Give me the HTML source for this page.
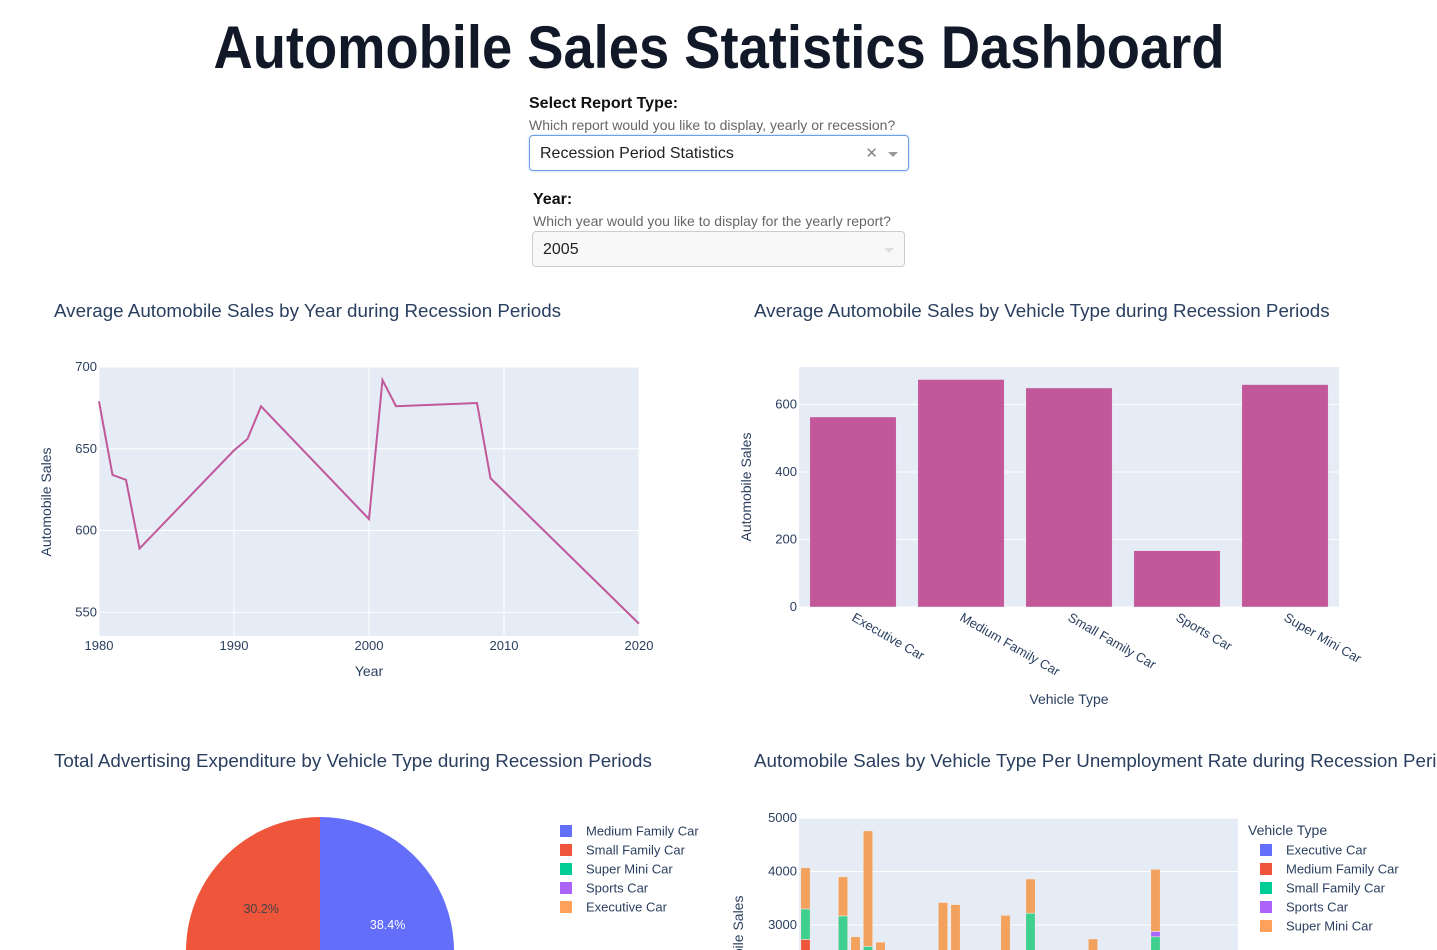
<!DOCTYPE html>
<html><head><meta charset="utf-8"><style>
html,body{margin:0;width:1437px;height:950px;overflow:hidden;background:#fff;font-family:"Liberation Sans",sans-serif;position:relative}
.lbl{position:absolute;font-weight:bold;font-size:16px;color:#111}
.hint{position:absolute;font-size:14px;color:#666}
.dd{position:absolute;box-sizing:border-box;border-radius:4px;font-size:16px;color:#222;padding-left:10px;line-height:36px}
svg{position:absolute;left:0;top:0;overflow:hidden}
</style></head><body>
<svg id="chart" width="1437" height="950">
<text x="719" y="68" text-anchor="middle" font-size="60" font-weight="bold" fill="#111827" textLength="1011" lengthAdjust="spacingAndGlyphs">Automobile Sales Statistics Dashboard</text>
</svg>
<div class="lbl" style="left:529px;top:95px">Select Report Type:</div>
<div class="hint" style="left:529px;top:117px">Which report would you like to display, yearly or recession?</div>
<div class="dd" style="left:529px;top:135px;width:380px;height:36px;border:1px solid #6b9fe6;box-shadow:0 0 2px #aac6f0">Recession Period Statistics<span style="position:absolute;right:30px;color:#888;font-size:15px">✕</span><span style="position:absolute;right:10px;top:16px;width:0;height:0;border-left:5px solid transparent;border-right:5px solid transparent;border-top:5px solid #999"></span></div>
<div class="lbl" style="left:533px;top:191px">Year:</div>
<div class="hint" style="left:533px;top:213px">Which year would you like to display for the yearly report?</div>
<div class="dd" style="left:532px;top:231px;width:373px;height:36px;border:1px solid #ccc;background:#f8f8f8">2005<span style="position:absolute;right:10px;top:16px;width:0;height:0;border-left:5px solid transparent;border-right:5px solid transparent;border-top:5px solid #ddd"></span></div>
<script>
const lineYears=[1980,1981,1982,1983,1990,1991,1992,2000,2001,2002,2008,2009,2020];
const lineSales=[679,634,631,589,649,656,676,607,692,676,678,632,543];
const yTicksLine=[550,600,650,700];
const xTicksLine=[1980,1990,2000,2010,2020];
const barTypes=["Executive Car","Medium Family Car","Small Family Car","Sports Car","Super Mini Car"];
const barSales=[563,674,649,167,659];
const yTicksBar=[0,200,400,600];
const pieLabels=["Medium Family Car","Small Family Car","Super Mini Car","Sports Car","Executive Car"];
const pieValues=[38.4,30.2,20.0,1.5,9.9];
const pieColors=["#636efa","#ef553b","#00cc96","#ab63fa","#ffa15a"];
const stackRates=[0,3,4,5,6,11,12,16,18,23,28];
const stackMedium=[2730,0,0,0,0,0,0,0,0,0,0];
const stackSmall=[570,3170,0,2600,0,0,0,0,3220,0,2780];
const stackSports=[0,0,0,0,0,0,0,0,0,0,100];
const stackSuperMini=[770,730,2780,2160,2680,3420,3380,3180,640,2740,1160];
const stackTicks=[3000,4000,5000];
const legendTypes=["Executive Car","Medium Family Car","Small Family Car","Sports Car","Super Mini Car"];
const legendColors=["#636efa","#ef553b","#00cc96","#ab63fa","#ffa15a"];

const svg=document.getElementById('chart');
const NS="http://www.w3.org/2000/svg";
function mk(tag,attrs,parent){const e=document.createElementNS(NS,tag);for(const k in attrs)e.setAttribute(k,attrs[k]);(parent||svg).appendChild(e);return e;}
function txt(x,y,s,attrs){const t=mk('text',Object.assign({x:x,y:y,'font-size':13,fill:'#2a3f5f','font-family':'Liberation Sans, sans-serif'},attrs||{}));t.textContent=s;return t;}
const col="#c2579a";

let t;
t=txt(54,317,"Average Automobile Sales by Year during Recession Periods",{'font-size':18.8});


t=txt(754,317,"Average Automobile Sales by Vehicle Type during Recession Periods",{'font-size':18.8});


t=txt(54,767,"Total Advertising Expenditure by Vehicle Type during Recession Periods",{'font-size':18.8});


t=txt(754,767,"Automobile Sales by Vehicle Type Per Unemployment Rate during Recession Periods",{'font-size':18.8});



// LINE CHART
const L={x0:99,x1:639,y0:636,y1:367};
const lx=v=>L.x0+(v-1980)/40*(L.x1-L.x0);
const ly=v=>L.y0-(v-535.5)/(700-535.5)*(L.y0-L.y1);
let bg=mk('rect',{x:L.x0,y:L.y1,width:L.x1-L.x0,height:L.y0-L.y1,fill:'#e5ecf6'});


yTicksLine.forEach(v=>{mk('line',{x1:L.x0,x2:L.x1,y1:ly(v),y2:ly(v),stroke:'#fff'});
 const g=txt(L.x0-2,ly(v)+4,String(v),{'text-anchor':'end'});
 
 });
xTicksLine.forEach(v=>{mk('line',{x1:lx(v),x2:lx(v),y1:L.y1,y2:L.y0,stroke:'#fff'});
 const g=txt(lx(v),650,String(v),{'text-anchor':'middle'});
 
 });
let pl=mk('polyline',{points:lineYears.map((y,i)=>lx(y)+','+ly(lineSales[i])).join(' '),fill:'none',stroke:col,'stroke-width':2});


t=txt(369,676,"Year",{'font-size':14,'text-anchor':'middle'});


t=txt(51,502,"Automobile Sales",{'font-size':14,'text-anchor':'middle',transform:'rotate(-90 51 502)'});



// BAR CHART
const B={x0:799,x1:1339,y0:607,y1:367};
const by=v=>B.y0-v/711*(B.y0-B.y1);
const bw=(B.x1-B.x0)/barTypes.length;
bg=mk('rect',{x:B.x0,y:B.y1,width:B.x1-B.x0,height:B.y0-B.y1,fill:'#e5ecf6'});


yTicksBar.forEach(v=>{mk('line',{x1:B.x0,x2:B.x1,y1:by(v),y2:by(v),stroke:'#fff'});
 const g=txt(B.x0-2,by(v)+4,String(v),{'text-anchor':'end'});
 
 });
barTypes.forEach((c,i)=>{const x=B.x0+i*bw+bw*0.1;
 const r=mk('rect',{x:x,y:by(barSales[i]),width:bw*0.8,height:B.y0-by(barSales[i]),fill:col,stroke:'#e5ecf6','stroke-width':0.5});
 
 
 const cx=B.x0+i*bw+bw/2;
 const g=txt(cx-2,620,c,{transform:'rotate(30 '+(cx-2)+' 620)'});
 
 });
t=txt(1069,704,"Vehicle Type",{'font-size':14,'text-anchor':'middle'});


t=txt(751,487,"Automobile Sales",{'font-size':14,'text-anchor':'middle',transform:'rotate(-90 751 487)'});



// PIE
const cx=320,cy=951,R=134;
const tot=pieValues.reduce((a,b)=>a+b,0);
const order=[0,4,3,2,1];
let ang=0;
order.forEach(i=>{const a0=ang,a1=ang+pieValues[i]/tot*2*Math.PI;ang=a1;
 const p=(a)=>[cx+R*Math.sin(a),cy-R*Math.cos(a)];
 const [x0,y0]=p(a0),[x1,y1]=p(a1);
 const s=mk('path',{d:`M${cx},${cy}L${x0},${y0}A${R},${R} 0 ${a1-a0>Math.PI?1:0} 1 ${x1},${y1}Z`,fill:pieColors[i]});
 
 
 const m=(a0+a1)/2;
 const g=txt(cx+R*0.54*Math.sin(m),cy-R*0.54*Math.cos(m)+4,pieValues[i].toFixed(1)+'%',{'text-anchor':'middle',fill:i===1?'#444':'#fff','font-size':12.5});
 
 });
pieLabels.forEach((l,i)=>{const y=831+i*19;
 const r=mk('rect',{x:560,y:y-6,width:12,height:12,fill:pieColors[i]});
 
 
 const g=txt(586,y+4.5,l);
 
 });

// STACKED BARS
const S={x0:799,x1:1238,ytop:818};
const sy=v=>S.ytop+(5000-v)*0.0535;
const sx=i=>805.5+i*12.5;
bg=mk('rect',{x:S.x0,y:S.ytop,width:S.x1-S.x0,height:140,fill:'#e5ecf6'});


stackTicks.forEach(v=>{mk('line',{x1:S.x0,x2:S.x1,y1:sy(v),y2:sy(v),stroke:'#fff'});
 const g=txt(S.x0-2,sy(v)+4,String(v),{'text-anchor':'end'});
 
 });
const series=[[stackMedium,'#ef553b'],[stackSmall,'#3fcf8e'],[stackSports,'#ab63fa'],[stackSuperMini,'#f3a25e']];
stackRates.forEach((r,i)=>{let base=0;
 series.forEach(([arr,c])=>{const v=arr[i];if(!v)return;
  const rc=mk('rect',{x:sx(r)-4.7,y:sy(base+v),width:9.4,height:sy(base)-sy(base+v),fill:c,stroke:'#f0e6e0','stroke-width':0.6});
  
  
  base+=v;});});
t=txt(743,950,"Automobile Sales",{'font-size':14,'text-anchor':'middle',transform:'rotate(-90 743 950)'});


t=txt(1248,835,"Vehicle Type",{'font-size':14});


legendTypes.forEach((l,i)=>{const y=850+i*19;
 const r=mk('rect',{x:1260,y:y-6,width:12,height:12,fill:legendColors[i]});
 
 
 const g=txt(1286,y+4.5,l);
 
 });
</script>
</body></html>
